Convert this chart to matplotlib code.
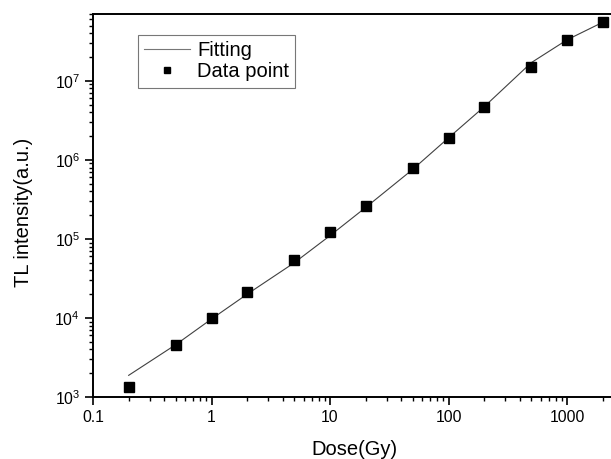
# TL dose response: measured points and fitted curve on log-log axes
import numpy as np
import matplotlib.pyplot as plt
from matplotlib import ticker

plt.rcParams['font.family'] = ['Liberation Sans', 'DejaVu Sans']
plt.rcParams['mathtext.fontset'] = 'custom'
plt.rcParams['mathtext.rm'] = 'Liberation Sans'
plt.rcParams['mathtext.it'] = 'Liberation Sans'

# measured data
dose = [0.2, 0.5, 1, 2, 5, 10, 20, 50, 100, 200, 500, 1000, 2000]
intensity = [1340, 4590, 1.0e4, 2.12e4, 5.48e4, 1.21e5, 2.57e5, 7.8e5,
             1.9e6, 4.72e6, 1.5e7, 3.3e7, 5.5e7]

# fitted curve
fit_dose = [0.2, 0.5, 1, 2, 5, 10, 20, 50, 100, 200, 500, 1000, 2000]
fit_intensity = [1880, 4600, 9700, 2.0e4, 5.0e4, 1.1e5, 2.5e5, 7.6e5,
                 1.9e6, 4.7e6, 1.7e7, 3.3e7, 5.5e7]

fig = plt.figure(figsize=(6.11, 4.59), dpi=100)
# axes run past the right edge of the canvas
ax = fig.add_axes([93/611, 1 - 397/459, 530.6/611, 383/459])

ax.plot(fit_dose, fit_intensity, '-', color='#404040', lw=0.8, label='Fitting')
ax.plot(dose, intensity, 's', color='black', ms=6.5, ls='none', label='Data point')

ax.set_xscale('log')
ax.set_yscale('log')
ax.set_xlim(0.1, 3000)
ax.set_ylim(1e3, 7e7)

ax.xaxis.set_major_formatter(ticker.FormatStrFormatter('%g'))
ax.xaxis.set_minor_locator(ticker.LogLocator(subs=np.arange(2, 10)))
ax.yaxis.set_minor_locator(ticker.LogLocator(subs=np.arange(2, 10), numticks=20))
ax.xaxis.set_minor_formatter(ticker.NullFormatter())
ax.yaxis.set_minor_formatter(ticker.NullFormatter())

ax.tick_params(which='major', direction='out', length=6, width=1.2, labelsize=11.3,
               top=False, right=False)
ax.tick_params(which='minor', direction='out', length=3, width=1.0,
               top=False, right=False)
for s in ax.spines.values():
    s.set_linewidth(1.4)

ax.set_xlabel('Dose(Gy)', fontsize=14.5)
ax.set_ylabel('TL intensity(a.u.)', fontsize=14.5)
ax.xaxis.set_label_coords((354 - 93)/530.6, -0.112)
ax.yaxis.set_label_coords(-0.113, (397 - 212)/383)

leg = ax.legend(loc='upper left', bbox_to_anchor=(138/611, 1 - 35/459),
                bbox_transform=fig.transFigure, borderaxespad=0,
                fancybox=False, fontsize=14.5, handlelength=2.3,
                borderpad=0.3, labelspacing=0.12, handletextpad=0.35,
                markerscale=0.75)
leg.get_frame().set_edgecolor('#555555')
leg.get_frame().set_linewidth(0.8)
leg.get_lines()[0].set_color('#777777')

fig.savefig('out.png', dpi=100)
